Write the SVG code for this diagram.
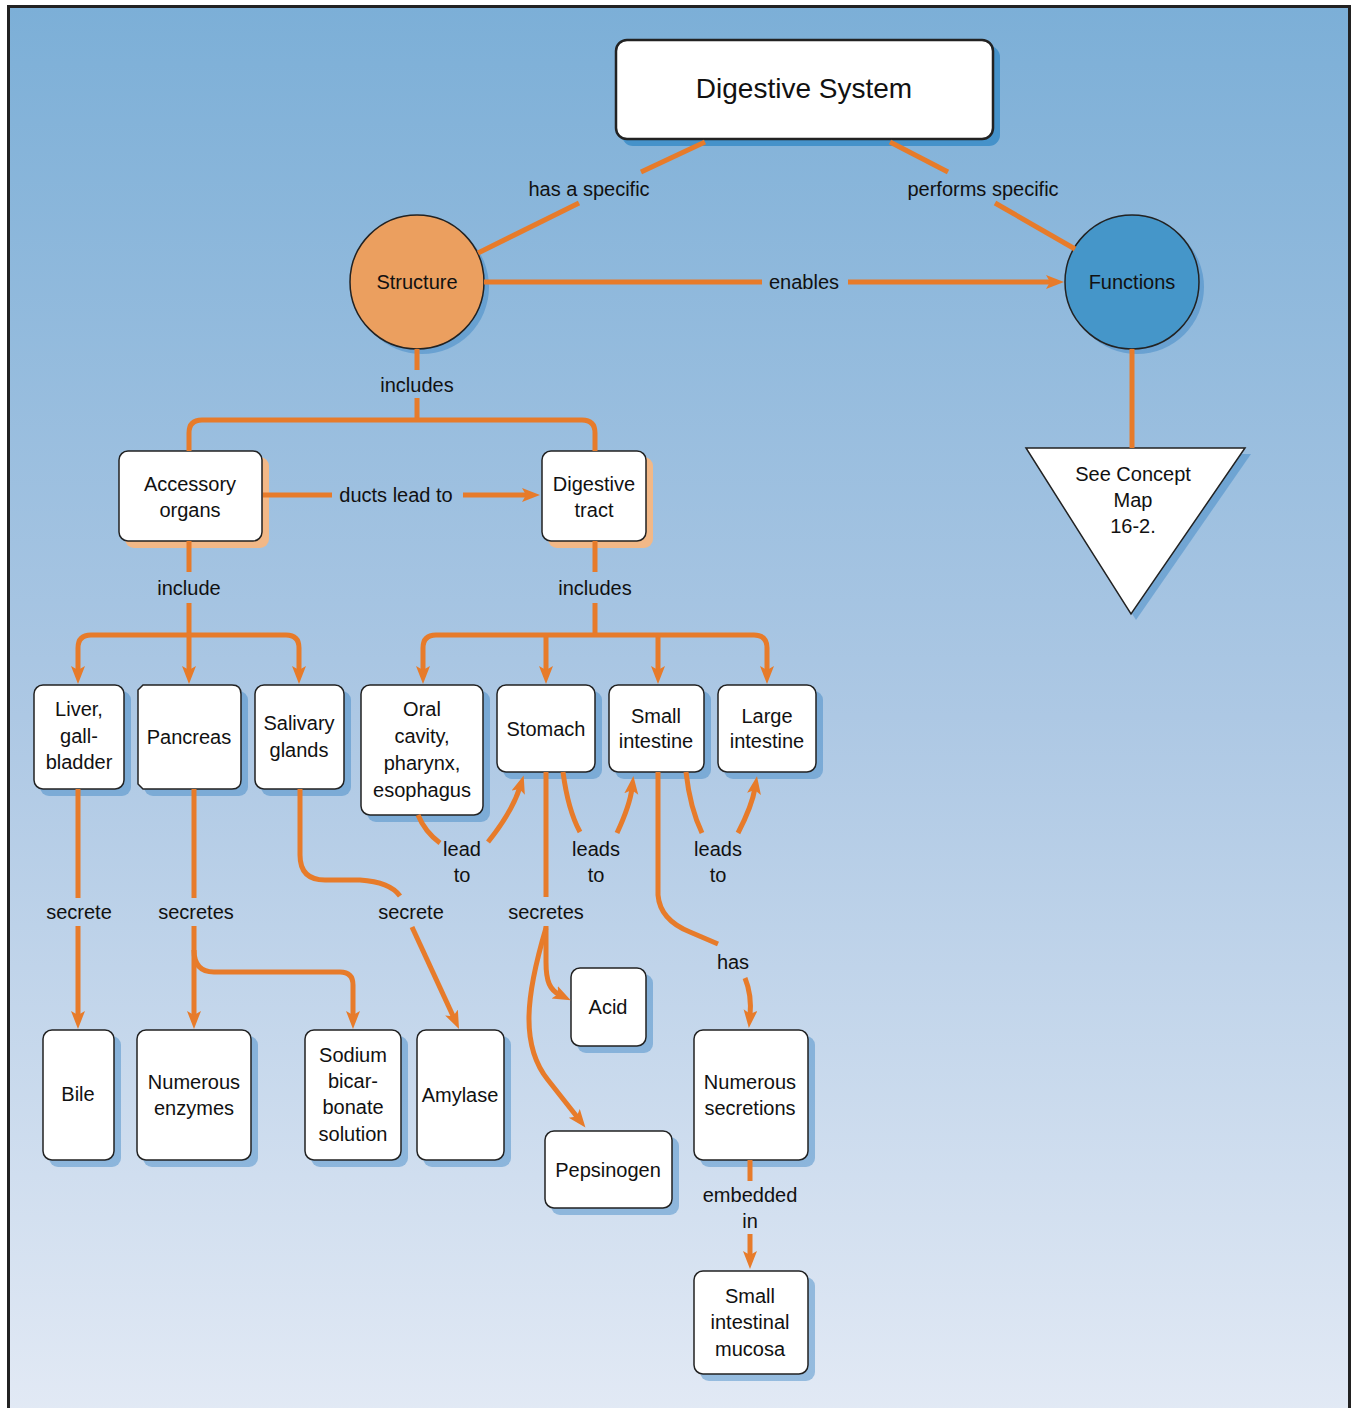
<svg xmlns="http://www.w3.org/2000/svg" width="1354" height="1408" viewBox="0 0 1354 1408">
<defs>
<linearGradient id="bg" x1="0" y1="0" x2="0" y2="1">
<stop offset="0" stop-color="#7cafd7"/>
<stop offset="0.5" stop-color="#adc8e4"/>
<stop offset="1" stop-color="#e3eaf5"/>
</linearGradient>
<marker id="ah" markerUnits="userSpaceOnUse" markerWidth="20" markerHeight="16" refX="6" refY="7" orient="auto">
<path d="M0,0 L18,7 L0,14 L4,7 Z" fill="#e77b2a"/>
</marker>
<style>
.c{fill:none;stroke:#e77b2a;stroke-width:5;stroke-linecap:butt}
.a{marker-end:url(#ah)}
.box{fill:#fff;stroke:#222;stroke-width:1.5}
.sh{fill:#2f7fc0;fill-opacity:0.42}
.sho{fill:#f2b887}
text{font-family:"Liberation Sans",Arial,sans-serif;font-size:20px;fill:#111;text-anchor:middle}
</style>
</defs>
<rect x="0" y="0" width="1354" height="1408" fill="#fff"/>
<rect x="8.5" y="6.5" width="1341" height="1420" fill="url(#bg)" stroke="#222" stroke-width="3"/>

<g id="n-digestive-system">
<rect x="622" y="46" width="378" height="100" rx="11" fill="#4592ca"/>
<rect x="616" y="40" width="377" height="99" rx="11" fill="#fff" stroke="#222" stroke-width="2.5"/>
<text x="804" y="98" style="font-size:28px">Digestive System</text>
</g>

<g id="n-structure">
<circle class="sh" cx="422" cy="287" r="67"/>
<circle cx="417" cy="282" r="67" fill="#eb9f5f" stroke="#222" stroke-width="1.5"/>
<text x="417" y="289">Structure</text>
</g>

<g id="n-functions">
<circle class="sh" cx="1137" cy="287" r="67"/>
<circle cx="1132" cy="282" r="67" fill="#4596c9" stroke="#222" stroke-width="1.5"/>
<text x="1132" y="289">Functions</text>
</g>

<g id="n-see-concept">
<polygon class="sh" points="1031,454 1251,454 1136,620"/>
<polygon points="1026,448 1245,448 1131,614" fill="#fff" stroke="#222" stroke-width="1.5"/>
<text x="1133" y="481">See Concept</text>
<text x="1133" y="507">Map</text>
<text x="1133" y="533">16-2.</text>
</g>

<g id="n-accessory">
<rect class="sho" x="125" y="457" width="144" height="91" rx="9"/>
<rect class="box" x="119" y="451" width="143" height="90" rx="9"/>
<text x="190" y="491">Accessory</text>
<text x="190" y="517">organs</text>
</g>

<g id="n-digestive-tract">
<rect class="sho" x="548" y="457" width="105" height="91" rx="9"/>
<rect class="box" x="542" y="451" width="104" height="90" rx="9"/>
<text x="594" y="491">Digestive</text>
<text x="594" y="517">tract</text>
</g>

<g id="n-liver">
<rect class="sh" x="40" y="691" width="91" height="105" rx="9"/>
<rect class="box" x="34" y="685" width="90" height="104" rx="9"/>
<text x="79" y="716">Liver,</text>
<text x="79" y="743">gall-</text>
<text x="79" y="769">bladder</text>
</g>

<g id="n-pancreas">
<rect class="sh" x="144" y="691" width="104" height="105" rx="9"/>
<path class="box" d="M143,685 L232,685 Q241,685 241,694 L241,780 Q241,789 232,789 L143,789 L138,784 L138,690 Z"/>
<text x="189" y="744">Pancreas</text>
</g>

<g id="n-salivary">
<rect class="sh" x="261" y="691" width="90" height="105" rx="9"/>
<rect class="box" x="255" y="685" width="89" height="104" rx="9"/>
<text x="299" y="730">Salivary</text>
<text x="299" y="757">glands</text>
</g>

<g id="n-oral">
<rect class="sh" x="367" y="691" width="123" height="131" rx="9"/>
<rect class="box" x="361" y="685" width="122" height="130" rx="9"/>
<text x="422" y="716">Oral</text>
<text x="422" y="743">cavity,</text>
<text x="422" y="770">pharynx,</text>
<text x="422" y="797">esophagus</text>
</g>

<g id="n-stomach">
<rect class="sh" x="503" y="691" width="99" height="88" rx="9"/>
<rect class="box" x="497" y="685" width="98" height="87" rx="9"/>
<text x="546" y="736">Stomach</text>
</g>

<g id="n-small-intestine">
<rect class="sh" x="615" y="691" width="96" height="88" rx="9"/>
<rect class="box" x="609" y="685" width="95" height="87" rx="9"/>
<text x="656" y="723">Small</text>
<text x="656" y="748">intestine</text>
</g>

<g id="n-large-intestine">
<rect class="sh" x="724" y="691" width="99" height="88" rx="9"/>
<rect class="box" x="718" y="685" width="98" height="87" rx="9"/>
<text x="767" y="723">Large</text>
<text x="767" y="748">intestine</text>
</g>

<g id="n-bile">
<rect class="sh" x="49" y="1036" width="72" height="131" rx="9"/>
<rect class="box" x="43" y="1030" width="71" height="130" rx="9"/>
<text x="78" y="1101">Bile</text>
</g>

<g id="n-enzymes">
<rect class="sh" x="143" y="1036" width="115" height="131" rx="9"/>
<rect class="box" x="137" y="1030" width="114" height="130" rx="9"/>
<text x="194" y="1089">Numerous</text>
<text x="194" y="1115">enzymes</text>
</g>

<g id="n-sodium">
<rect class="sh" x="311" y="1036" width="97" height="131" rx="9"/>
<rect class="box" x="305" y="1030" width="96" height="130" rx="9"/>
<text x="353" y="1062">Sodium</text>
<text x="353" y="1088">bicar-</text>
<text x="353" y="1114">bonate</text>
<text x="353" y="1141">solution</text>
</g>

<g id="n-amylase">
<rect class="sh" x="423" y="1036" width="88" height="131" rx="9"/>
<rect class="box" x="417" y="1030" width="87" height="130" rx="9"/>
<text x="460" y="1102">Amylase</text>
</g>

<g id="n-acid">
<rect class="sh" x="577" y="974" width="76" height="79" rx="9"/>
<rect class="box" x="571" y="968" width="75" height="78" rx="9"/>
<text x="608" y="1014">Acid</text>
</g>

<g id="n-pepsinogen">
<rect class="sh" x="551" y="1137" width="128" height="78" rx="9"/>
<rect class="box" x="545" y="1131" width="127" height="77" rx="9"/>
<text x="608" y="1177">Pepsinogen</text>
</g>

<g id="n-secretions">
<rect class="sh" x="700" y="1036" width="115" height="131" rx="9"/>
<rect class="box" x="694" y="1030" width="114" height="130" rx="9"/>
<text x="750" y="1089">Numerous</text>
<text x="750" y="1115">secretions</text>
</g>

<g id="n-mucosa">
<rect class="sh" x="700" y="1277" width="115" height="104" rx="9"/>
<rect class="box" x="694" y="1271" width="114" height="103" rx="9"/>
<text x="750" y="1303">Small</text>
<text x="750" y="1329">intestinal</text>
<text x="750" y="1356">mucosa</text>
</g>

<g id="connectors">
<path class="c" d="M705,142 L641,172"/>
<path class="c" d="M579,203 L478,253"/>
<path class="c" d="M890,142 L948,172"/>
<path class="c" d="M995,203 L1075,249"/>
<path class="c" d="M484,282 L762,282"/>
<path class="c a" d="M848,282 L1052,282"/>
<path class="c" d="M1132,349 L1132,448"/>
<path class="c" d="M417,349 L417,370"/>
<path class="c" d="M417,398 L417,420"/>
<path class="c" d="M189,451 L189,433 Q189,420 202,420 L582,420 Q595,420 595,433 L595,451"/>
<path class="c" d="M263,495 L332,495"/>
<path class="c a" d="M463,495 L528,495"/>
<path class="c" d="M189,541 L189,572"/>
<path class="c a" d="M189,603 L189,672"/>
<path class="c a" d="M189,635 L91,635 Q78,635 78,648 L78,672"/>
<path class="c a" d="M189,635 L286,635 Q299,635 299,648 L299,672"/>
<path class="c" d="M595,541 L595,572"/>
<path class="c" d="M595,603 L595,635"/>
<path class="c a" d="M595,635 L436,635 Q423,635 423,648 L423,672"/>
<path class="c a" d="M595,635 L754,635 Q767,635 767,648 L767,672"/>
<path class="c a" d="M546,635 L546,672"/>
<path class="c a" d="M658,635 L658,672"/>
<path class="c" d="M418,815 Q425,832 440,843"/>
<path class="c a" d="M488,842 Q512,812 520,787"/>
<path class="c" d="M563,772 Q568,810 580,832"/>
<path class="c a" d="M617,833 Q630,805 632,788"/>
<path class="c" d="M686,772 Q690,808 702,833"/>
<path class="c a" d="M738,833 Q752,806 755,788"/>
<path class="c" d="M78,789 L78,898"/>
<path class="c a" d="M78,926 L78,1017"/>
<path class="c" d="M194,789 L194,898"/>
<path class="c a" d="M194,926 L194,1017"/>
<path class="c a" d="M194,950 Q194,972 214,972 L340,972 Q353,972 353,985 L353,1017"/>
<path class="c" d="M300,789 L300,855 Q300,880 325,880 L360,880 Q390,882 400,896"/>
<path class="c a" d="M412,927 L454,1018"/>
<path class="c" d="M546,772 L546,897"/>
<path class="c a" d="M546,926 L546,962 C546,982 550,990 560,995"/>
<path class="c a" d="M546,928 C526,995 520,1045 548,1080 L578,1118"/>
<path class="c" d="M658,772 L658,895 Q660,920 690,932 L718,944"/>
<path class="c a" d="M745,978 Q752,995 750,1016"/>
<path class="c" d="M750,1160 L750,1181"/>
<path class="c a" d="M750,1234 L750,1257"/>
</g>

<g id="labels">
<text x="589" y="196">has a specific</text>
<text x="983" y="196">performs specific</text>
<text x="804" y="289">enables</text>
<text x="417" y="392">includes</text>
<text x="396" y="502">ducts lead to</text>
<text x="189" y="595">include</text>
<text x="595" y="595">includes</text>
<text x="462" y="856">lead</text>
<text x="462" y="882">to</text>
<text x="596" y="856">leads</text>
<text x="596" y="882">to</text>
<text x="718" y="856">leads</text>
<text x="718" y="882">to</text>
<text x="79" y="919">secrete</text>
<text x="196" y="919">secretes</text>
<text x="411" y="919">secrete</text>
<text x="546" y="919">secretes</text>
<text x="733" y="969">has</text>
<text x="750" y="1202">embedded</text>
<text x="750" y="1228">in</text>
</g>
</svg>
